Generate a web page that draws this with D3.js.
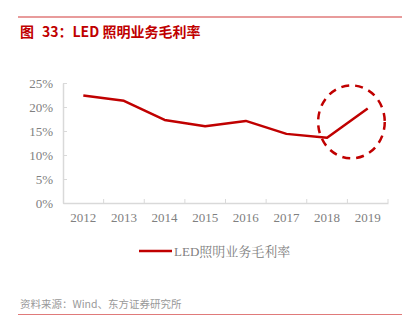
<!DOCTYPE html>
<html>
<head>
<meta charset="utf-8">
<style>
  body { margin: 0; background: #fff; }
  svg { display: block; }
</style>
<script src="https://cdn.jsdelivr.net/npm/d3@7"></script>
</head>
<body>
<script>
var years = ["2012", "2013", "2014", "2015", "2016", "2017", "2018", "2019"];
var margins = [22.4, 21.3, 17.3, 16.0, 17.1, 14.4, 13.6, 19.7];
var yTicks = [0, 5, 10, 15, 20, 25];
var seriesName = "LED照明业务毛利率";
var titleLabel = "图";
var titleText = "33：LED 照明业务毛利率";
var sourceText = "资料来源：Wind、东方证券研究所";
// highlighted area: around the last two years
var highlight = { year: "2019", value: 16.9 };

var W = 412, H = 331;
var svg = d3.select("body").append("svg").attr("width", W).attr("height", H);

// frame lines
svg.append("line").attr("x1", 18).attr("x2", 402).attr("y1", 17).attr("y2", 17)
  .attr("stroke", "#e07a7a").attr("stroke-width", 1.5);
svg.append("line").attr("x1", 18).attr("x2", 402).attr("y1", 314.5).attr("y2", 314.5)
  .attr("stroke", "#e07a7a").attr("stroke-width", 1);

var title = svg.append("text").attr("x", 20).attr("y", 36.5)
  .attr("fill", "#c00000").attr("font-family", "'Noto Sans CJK SC', sans-serif")
  .attr("font-size", 14).attr("font-weight", "bold");
title.append("tspan").text(titleLabel);
title.append("tspan").attr("dx", 8).text(titleText);

svg.append("text").attr("x", 20).attr("y", 308)
  .attr("fill", "#999").attr("font-family", "'Noto Sans CJK SC', sans-serif")
  .attr("font-size", 10.5).text(sourceText);

var x = d3.scaleBand().domain(years).range([63, 388]);
var y = d3.scaleLinear().domain([0, 25]).range([203, 83]);

var axisColor = "#d9d9d9", labelColor = "#808080";
var font = "'Liberation Serif', 'Times New Roman', serif";

var xAxis = svg.append("g").attr("transform", "translate(0," + y(0) + ")")
  .call(d3.axisBottom(x).tickSize(0).tickPadding(10));
xAxis.select(".domain").attr("stroke", axisColor).attr("stroke-width", 1.5);
xAxis.selectAll("text").attr("fill", labelColor).attr("font-family", font).attr("font-size", 13);
// tick marks at band edges
xAxis.selectAll(".edge").data(years.slice(1).concat(["end"])).enter().append("line")
  .attr("x1", d => d == "end" ? x.range()[1] : x(d))
  .attr("x2", d => d == "end" ? x.range()[1] : x(d))
  .attr("y1", 0).attr("y2", -4)
  .attr("stroke", axisColor).attr("stroke-width", 1);

var yAxis = svg.append("g").attr("transform", "translate(" + x.range()[0] + ",0)")
  .call(d3.axisLeft(y).tickValues(yTicks).tickFormat(d => d + "%").tickSize(0).tickPadding(10));
yAxis.select(".domain").attr("stroke", axisColor).attr("stroke-width", 1.5);
yAxis.selectAll("text").attr("fill", labelColor).attr("font-family", font).attr("font-size", 13);
yAxis.selectAll(".tick").append("line").attr("x1", 0).attr("x2", 4)
  .attr("stroke", axisColor).attr("stroke-width", 1);

var line = d3.line()
  .x((d, i) => x(years[i]) + x.bandwidth() / 2)
  .y(d => y(d));

svg.append("path").datum(margins)
  .attr("d", line)
  .attr("fill", "none")
  .attr("stroke", "#c00000")
  .attr("stroke-width", 2.5)
  .attr("stroke-linejoin", "round");

// dashed highlight ellipse
svg.append("ellipse")
  .attr("cx", x(highlight.year) + x.bandwidth() * 0.1)
  .attr("cy", y(highlight.value))
  .attr("rx", x.bandwidth() * 0.82)
  .attr("ry", y(0) - y(7.6))
  .attr("fill", "none")
  .attr("stroke", "#c00000")
  .attr("stroke-width", 2.5)
  .attr("stroke-dasharray", "8,6");

// legend
var lg = svg.append("g");
lg.append("line").attr("x1", 139).attr("x2", 172).attr("y1", 251).attr("y2", 251)
  .attr("stroke", "#c00000").attr("stroke-width", 2.5);
lg.append("text").attr("x", 174).attr("y", 256)
  .attr("fill", labelColor).attr("font-family", "'Liberation Serif', 'Noto Serif CJK SC', 'Noto Sans CJK SC', serif")
  .attr("font-size", 13).text(seriesName);
</script>
</body>
</html>
